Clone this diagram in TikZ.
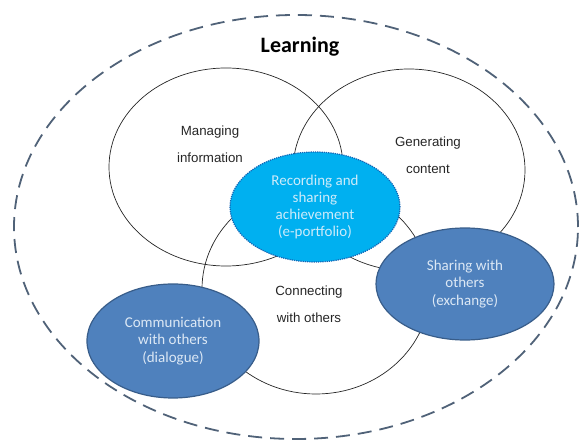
\documentclass[tikz,border=0pt]{standalone}
\usepackage{fontspec}
\setmainfont{Liberation Sans}
\newfontfamily\calibri{Carlito}
\usetikzlibrary{shapes.geometric}
\definecolor{dashcol}{RGB}{80,98,120}
\definecolor{cyanfill}{RGB}{0,176,240}
\definecolor{cyanedge}{RGB}{20,100,180}
\definecolor{bluefill}{RGB}{79,129,189}
\definecolor{blueedge}{RGB}{56,93,138}
\definecolor{lighttext}{RGB}{220,232,245}
\definecolor{cyantext}{RGB}{205,235,250}
\begin{document}
\begin{tikzpicture}[x=1pt,y=-1pt,
  outerring/.style={ellipse, draw=dashcol, line width=1.8pt, dash pattern=on 14pt off 8pt, inner sep=0pt},
  ring/.style={ellipse, draw=black!85, line width=0.7pt, inner sep=0pt},
  hub/.style={ellipse, fill=cyanfill, draw=cyanedge, line width=1.2pt, densely dotted, inner sep=0pt,
    text=cyantext, font=\calibri\fontsize{15}{17}\selectfont, align=center},
  bluebox/.style={ellipse, fill=bluefill, draw=blueedge, line width=1.2pt, inner sep=0pt,
    text=lighttext, font=\calibri\fontsize{15}{17.5}\selectfont, align=center},
  lbl/.style={font=\fontsize{13.3}{27}\selectfont, align=center, text=black!85, inner sep=0pt},
  title/.style={font=\calibri\bfseries\fontsize{22}{24}\selectfont, inner sep=0pt}
]
\useasboundingbox (0,0) rectangle (579,443);
\node[outerring, minimum width=564pt, minimum height=424pt] (learning) at (296,227) {};
\node[title] (ltitle) at (300,47) {Learning};

\node[ring, minimum width=234pt, minimum height=198pt] (manage) at (226,167) {};
\node[ring, minimum width=232pt, minimum height=202pt] (generate) at (409,170) {};
\node[ring, minimum width=228pt, minimum height=210pt] (connect) at (316,289) {};

\node[lbl] (lmanage) at (210,144) {Managing\\information};
\node[lbl] (lgenerate) at (428,155) {Generating\\content};
\node[lbl] (lconnect) at (309,304) {Connecting\\with others};

\node[hub, minimum width=170pt, minimum height=110pt] (record) at (315,207)
  {Recording and\\sharing\\achievement\\(e-portfolio)};
\node[bluebox, minimum width=178pt, minimum height=112pt] (share) at (465,284)
  {Sharing with\\others\\(exchange)};
\node[bluebox, minimum width=172pt, minimum height=114pt] (comm) at (173,341)
  {Communication\\with others\\(dialogue)};
\end{tikzpicture}
\end{document}
